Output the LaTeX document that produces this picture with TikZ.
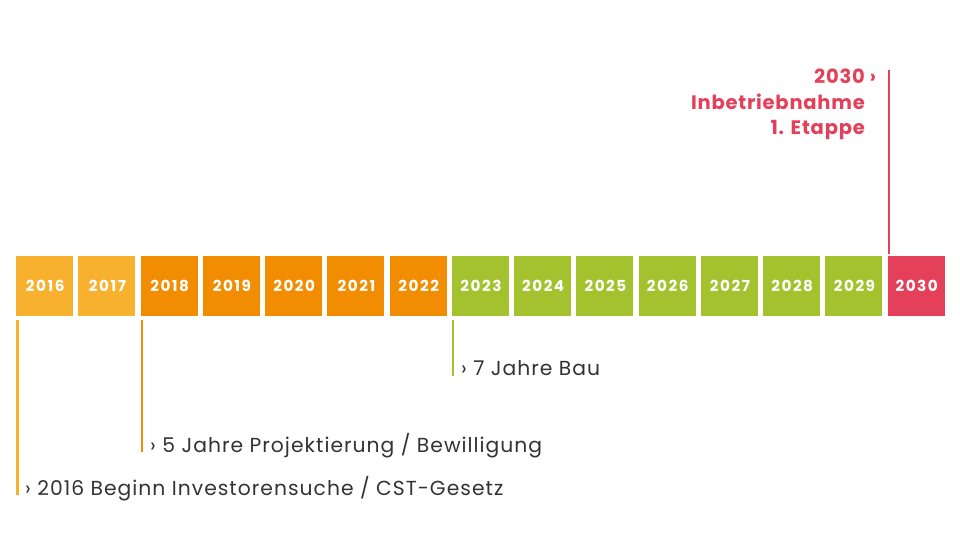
\documentclass[tikz,border=0pt]{standalone}
\usepackage{fontspec}
\setmainfont{Poppins}
\newfontfamily\spfont[LetterSpace=4]{Poppins}
\newfontfamily\txfont[LetterSpace=5]{Poppins}
\newfontfamily\boxfont[LetterSpace=10]{Poppins}
\definecolor{cyel}{HTML}{F8B12F}
\definecolor{cora}{HTML}{F28C00}
\definecolor{cgrn}{HTML}{A3C22E}
\definecolor{cred}{HTML}{E5405A}
\definecolor{ctxt}{HTML}{333333}
\begin{document}
\begin{tikzpicture}[x=1pt,y=-1pt,
  yearbox/.style={minimum width=57pt,minimum height=60pt,inner sep=0pt,text=white,
    font=\boxfont\fontsize{15.2}{16}\selectfont\bfseries,anchor=north west},
  mline/.style={line width=2.4pt},
  mtext/.style={font=\txfont\fontsize{20.3}{22}\selectfont,text=ctxt,anchor=base west,inner sep=0pt}]
\useasboundingbox (0,0) rectangle (960,540);
\foreach \i/\c in {0/cyel,1/cyel,2/cora,3/cora,4/cora,5/cora,6/cora,7/cgrn,8/cgrn,9/cgrn,10/cgrn,11/cgrn,12/cgrn,13/cgrn,14/cred}{
  \pgfmathtruncatemacro{\yr}{2016+\i}
  \node[yearbox,fill=\c] (y\yr) at ({16+62.25*\i},256) {\hspace{1pt}\yr};
}
% milestone lines
\coordinate (e16) at ([xshift=1.5pt]y2016.south west|-0,495);
\draw[mline,cyel] ([xshift=1.5pt,yshift=-4pt]y2016.south west) -- (e16);
\node[mtext] (t16) at (25,495) {› 2016 Beginn Investorensuche / CST-Gesetz};
\coordinate (e18) at ([xshift=1.5pt]y2018.south west|-0,452);
\draw[mline,cora] ([xshift=1.5pt,yshift=-4pt]y2018.south west) -- (e18);
\node[mtext] (t18) at (150,452) {› 5 Jahre Projektierung / Bewilligung};
\coordinate (e23) at ([xshift=1.5pt]y2023.south west|-0,376);
\draw[mline,cgrn] ([xshift=1.5pt,yshift=-4pt]y2023.south west) -- (e23);
\node[mtext] (t23) at (461,375) {› 7 Jahre Bau};
\coordinate (e30) at ([xshift=1.5pt]y2030.north west|-0,70);
\draw[mline,cred] ([xshift=1.5pt,yshift=2pt]y2030.north west) -- (e30);
\node[font=\spfont\fontsize{19.5}{25.5}\selectfont\bfseries,text=cred,align=right,anchor=base east,inner sep=0pt] (t30) at (865,135) {2030\rlap{ ›}\\Inbetriebnahme\\1. Etappe};
\end{tikzpicture}
\end{document}
